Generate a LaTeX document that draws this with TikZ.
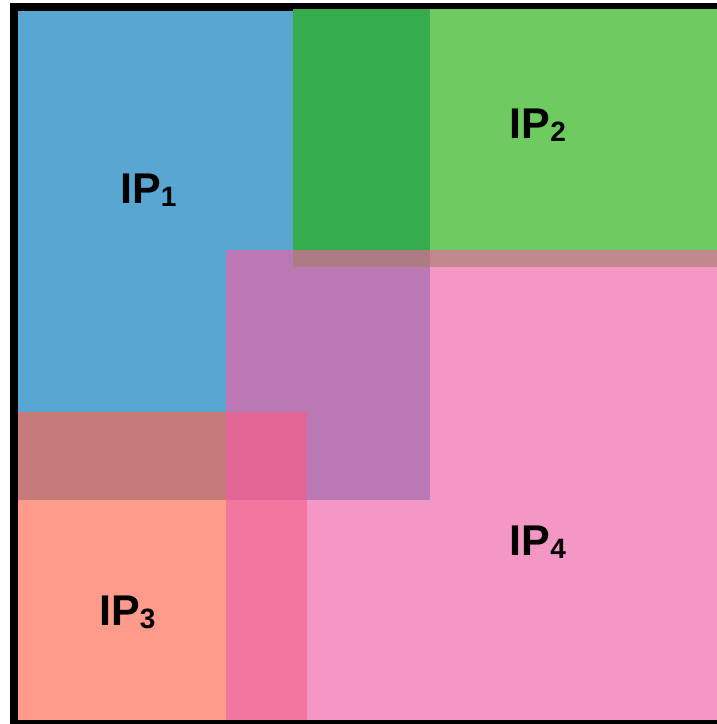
\documentclass[tikz,border=0pt]{standalone}
\usepackage{fontspec}
\setmainfont{Liberation Sans}
\definecolor{cblue}{HTML}{5AA6D2}
\definecolor{cgreen}{HTML}{6DCB60}
\definecolor{cdkgreen}{HTML}{35AD4C}
\definecolor{cpink}{HTML}{F497C5}
\definecolor{cpurple}{HTML}{BA78B5}
\definecolor{cgpstrip}{HTML}{C1888D}
\definecolor{ctriple}{HTML}{AD7B83}
\definecolor{csalmon}{HTML}{FF9B8B}
\definecolor{csblue}{HTML}{C47B7A}
\definecolor{cstriple}{HTML}{E06795}
\definecolor{cspink}{HTML}{F2769F}
\newcommand{\iplabel}[1]{\fontsize{43}{43}\selectfont\bfseries IP\raisebox{-3pt}{\fontsize{28}{28}\selectfont #1}}
\begin{document}
\begin{tikzpicture}[x=1pt,y=-1pt,
  lbl/.style={inner sep=0pt, anchor=base west, text=black}]
\useasboundingbox (0,0) rectangle (716,724);
% frame
\fill[black] (10,3) rectangle (720,728);
% base regions
\fill[cblue] (18,11) rectangle (430,500);
\fill[cgreen] (293,9) rectangle (720,267);
\fill[cpink] (226,250) rectangle (720,720);
\fill[csalmon] (18,412) rectangle (307,720);
% overlaps
\fill[cdkgreen] (293,9) rectangle (430,250);
\fill[ctriple] (293,250) rectangle (430,267);
\fill[cgpstrip] (430,250) rectangle (720,267);
\fill[cpurple] (226,267) rectangle (430,500);
\fill[cpurple] (226,250) rectangle (293,267);
\fill[csblue] (18,412) rectangle (226,500);
\fill[cstriple] (226,412) rectangle (307,500);
\fill[cspink] (226,500) rectangle (307,720);
% labels
\node[lbl] (ip1) at (120,203) {\iplabel{1}};
\node[lbl] (ip2) at (509.5,138) {\iplabel{2}};
\node[lbl] (ip3) at (99,625) {\iplabel{3}};
\node[lbl] (ip4) at (509.5,555) {\iplabel{4}};
\end{tikzpicture}
\end{document}
